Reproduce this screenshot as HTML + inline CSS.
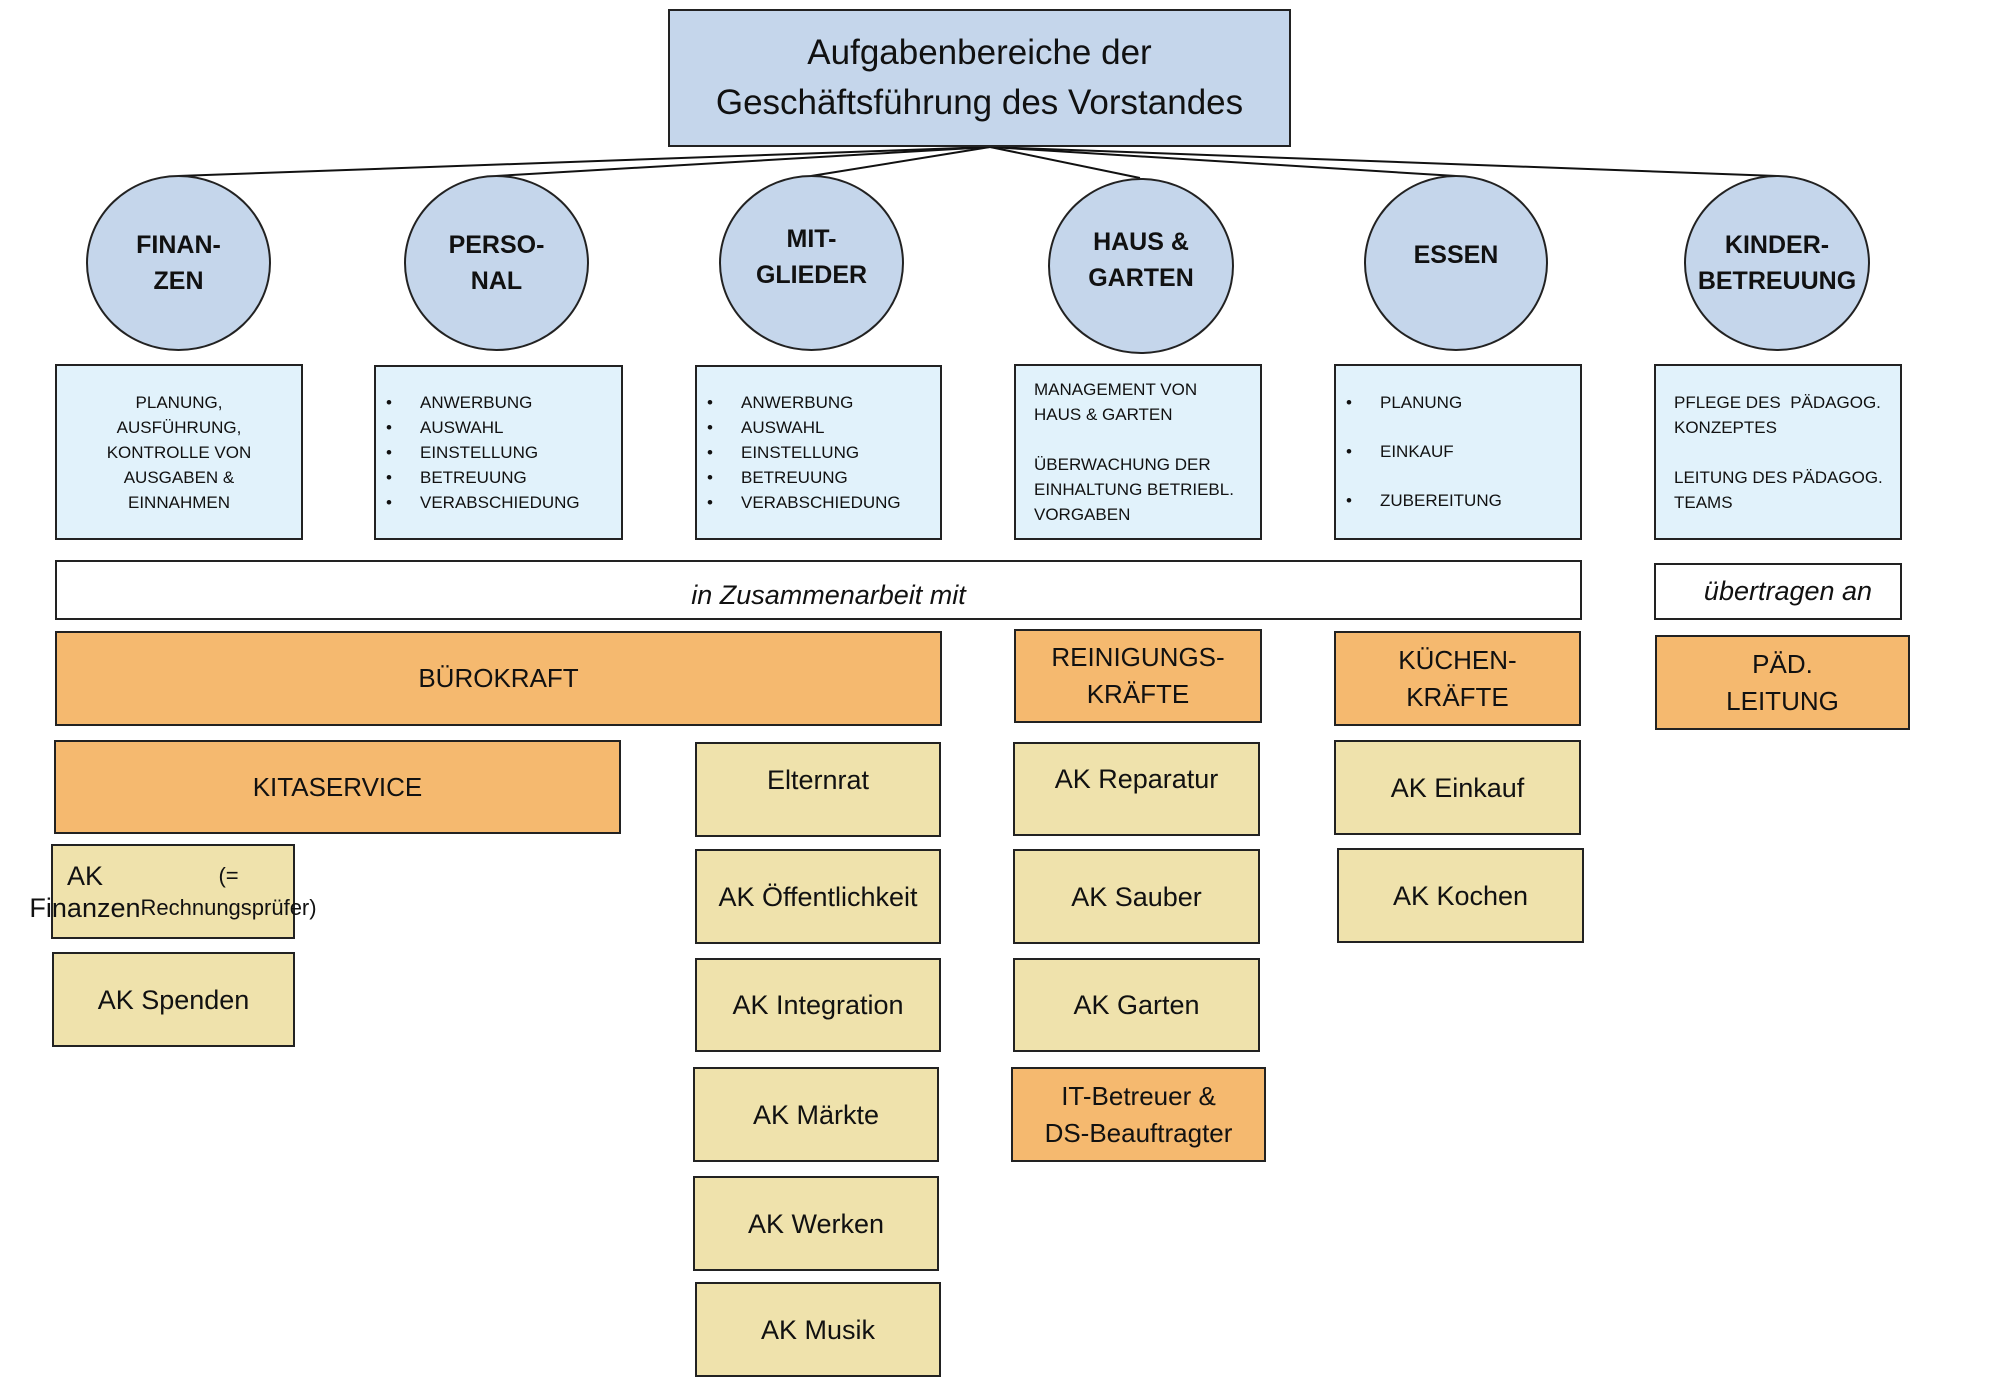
<!DOCTYPE html>
<html><head><meta charset="utf-8"><style>
body{margin:0;width:2000px;height:1385px;background:#fff;position:relative;overflow:hidden;font-family:"Liberation Sans",sans-serif;color:#111}
.b{position:absolute;box-sizing:border-box;border:2px solid #222;display:flex;align-items:center;justify-content:center;text-align:center}
.c{position:absolute;box-sizing:border-box;border:2px solid #222;border-radius:50%;background:#c5d6eb;display:flex;align-items:center;justify-content:center;text-align:center;font-weight:bold;font-size:25px;line-height:36px}
.d{background:#e1f2fb;font-size:17px;line-height:25px}
.o{background:#f5b96f;font-size:26px;line-height:37px}
.y{background:#efe2ac;font-size:27px;line-height:34px}
ul{margin:0;padding:0 0 0 44px;list-style:none;text-align:left}
ul li{position:relative}
ul li:before{content:"•";position:absolute;left:-34px}
</style></head><body>
<svg width="2000" height="1385" style="position:absolute;left:0;top:0">
<g stroke="#111" stroke-width="2" fill="none">
<line x1="990" y1="147" x2="178" y2="176"/>
<line x1="990" y1="147" x2="496" y2="176"/>
<line x1="990" y1="147" x2="811" y2="176"/>
<line x1="990" y1="147" x2="1140" y2="178"/>
<line x1="990" y1="147" x2="1456" y2="176"/>
<line x1="990" y1="147" x2="1777" y2="176"/>
</g></svg>
<div class="b" style="left:668px;top:9px;width:623px;height:138px;background:#c5d6eb;font-size:35px;line-height:50px">Aufgabenbereiche der<br>Geschäftsführung des Vorstandes</div>

<div class="c" style="left:86px;top:175px;width:185px;height:176px">FINAN-<br>ZEN</div>
<div class="c" style="left:404px;top:175px;width:185px;height:176px">PERSO-<br>NAL</div>
<div class="c" style="left:719px;top:175px;width:185px;height:176px;padding-bottom:12px">MIT-<br>GLIEDER</div>
<div class="c" style="left:1048px;top:178px;width:186px;height:176px;padding-bottom:12px">HAUS &amp;<br>GARTEN</div>
<div class="c" style="left:1364px;top:175px;width:184px;height:176px;padding-bottom:16px">ESSEN</div>
<div class="c" style="left:1684px;top:175px;width:186px;height:176px">KINDER-<br>BETREUUNG</div>

<div class="b d" style="left:55px;top:364px;width:248px;height:176px">PLANUNG,<br>AUSFÜHRUNG,<br>KONTROLLE VON<br>AUSGABEN &amp;<br>EINNAHMEN</div>
<div class="b d" style="left:374px;top:365px;width:249px;height:175px;justify-content:flex-start"><ul><li>ANWERBUNG</li><li>AUSWAHL</li><li>EINSTELLUNG</li><li>BETREUUNG</li><li>VERABSCHIEDUNG</li></ul></div>
<div class="b d" style="left:695px;top:365px;width:247px;height:175px;justify-content:flex-start"><ul><li>ANWERBUNG</li><li>AUSWAHL</li><li>EINSTELLUNG</li><li>BETREUUNG</li><li>VERABSCHIEDUNG</li></ul></div>
<div class="b d" style="left:1014px;top:364px;width:248px;height:176px;justify-content:flex-start;text-align:left;padding-left:18px">MANAGEMENT VON<br>HAUS &amp; GARTEN<br><br>ÜBERWACHUNG DER<br>EINHALTUNG BETRIEBL.<br>VORGABEN</div>
<div class="b d" style="left:1334px;top:364px;width:248px;height:176px;justify-content:flex-start;align-items:flex-start;padding-top:12px;line-height:49px"><ul><li>PLANUNG</li><li>EINKAUF</li><li>ZUBEREITUNG</li></ul></div>
<div class="b d" style="left:1654px;top:364px;width:248px;height:176px;justify-content:flex-start;text-align:left;padding-left:18px">PFLEGE DES&nbsp; PÄDAGOG.<br>KONZEPTES<br><br>LEITUNG DES PÄDAGOG.<br>TEAMS</div>

<div class="b" style="left:55px;top:560px;width:1527px;height:60px;font-style:italic;font-size:27px;padding-top:10px;padding-left:20px">in Zusammenarbeit mit</div>
<div class="b" style="left:1654px;top:563px;width:248px;height:57px;font-style:italic;font-size:27px;padding-left:20px">übertragen an</div>

<div class="b o" style="left:55px;top:631px;width:887px;height:95px">BÜROKRAFT</div>
<div class="b o" style="left:1014px;top:629px;width:248px;height:94px">REINIGUNGS-<br>KRÄFTE</div>
<div class="b o" style="left:1334px;top:631px;width:247px;height:95px">KÜCHEN-<br>KRÄFTE</div>
<div class="b o" style="left:1655px;top:635px;width:255px;height:95px">PÄD.<br>LEITUNG</div>

<div class="b o" style="left:54px;top:740px;width:567px;height:94px">KITASERVICE</div>
<div class="b y" style="left:51px;top:844px;width:244px;height:95px;line-height:32px">AK Finanzen<br><span style="font-size:22px">(= Rechnungsprüfer)</span></div>
<div class="b y" style="left:52px;top:952px;width:243px;height:95px">AK Spenden</div>

<div class="b y" style="left:695px;top:742px;width:246px;height:95px;padding-bottom:20px">Elternrat</div>
<div class="b y" style="left:695px;top:849px;width:246px;height:95px">AK Öffentlichkeit</div>
<div class="b y" style="left:695px;top:958px;width:246px;height:94px">AK Integration</div>
<div class="b y" style="left:693px;top:1067px;width:246px;height:95px">AK Märkte</div>
<div class="b y" style="left:693px;top:1176px;width:246px;height:95px">AK Werken</div>
<div class="b y" style="left:695px;top:1282px;width:246px;height:95px">AK Musik</div>

<div class="b y" style="left:1013px;top:742px;width:247px;height:94px;padding-bottom:20px">AK Reparatur</div>
<div class="b y" style="left:1013px;top:849px;width:247px;height:95px">AK Sauber</div>
<div class="b y" style="left:1013px;top:958px;width:247px;height:94px">AK Garten</div>
<div class="b o" style="left:1011px;top:1067px;width:255px;height:95px">IT-Betreuer &amp;<br>DS-Beauftragter</div>

<div class="b y" style="left:1334px;top:740px;width:247px;height:95px">AK Einkauf</div>
<div class="b y" style="left:1337px;top:848px;width:247px;height:95px">AK Kochen</div>
</body></html>
